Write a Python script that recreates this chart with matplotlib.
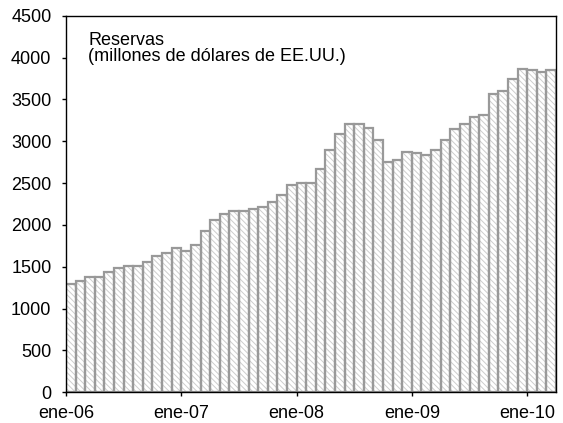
import numpy as np
import matplotlib.pyplot as plt

# reservas mensuales, millones de USD (ene-06 .. mar-10)
r2006 = [1295, 1334, 1375, 1375, 1434, 1481, 1507, 1507, 1561, 1626, 1665, 1729]
r2007 = [1688, 1756, 1924, 2064, 2126, 2167, 2167, 2190, 2214, 2271, 2353, 2482]
r2008 = [2501, 2501, 2664, 2891, 3086, 3206, 3206, 3163, 3019, 2752, 2772, 2871]
r2009 = [2859, 2838, 2899, 3019, 3146, 3210, 3290, 3310, 3564, 3601, 3744, 3867]
r2010 = [3847, 3828, 3856]
reservas = r2006 + r2007 + r2008 + r2009 + r2010
tick_labels = ['ene-06', 'ene-07', 'ene-08', 'ene-09', 'ene-10']

plt.rcParams['font.family'] = ['Liberation Sans', 'DejaVu Sans']
plt.rcParams['hatch.linewidth'] = 0.7

fig = plt.figure(figsize=(5.63, 4.23), dpi=100)
ax = fig.add_axes([0.1172, 0.0726, 0.8704, 0.8903])

x = np.arange(len(reservas))
# relleno rayado + borde gris
ax.bar(x, reservas, width=1.0, align='edge', color='white',
       edgecolor='#cdcdcd', hatch='\\\\\\\\\\\\', linewidth=0)
ax.bar(x, reservas, width=1.0, align='edge', fill=False,
       edgecolor='#999999', linewidth=1.6)

ax.set_xlim(0, len(reservas))
ax.set_ylim(0, 4500)
ax.set_yticks(np.arange(0, 4501, 500))
ax.set_xticks([0, 12, 24, 36, 48])
ax.set_xticklabels(tick_labels)

for s in ax.spines.values():
    s.set_color('black')
    s.set_linewidth(1.0)
    s.set_zorder(3)
ax.tick_params(axis='both', direction='out', length=3, width=1.0,
               labelsize=13, colors='black')
ax.tick_params(axis='y', pad=7.5)
ax.tick_params(axis='x', pad=6)

ax.text(0.045, 0.958, 'Reservas\n(millones de dólares de EE.UU.)',
        transform=ax.transAxes, ha='left', va='top', fontsize=13,
        linespacing=0.95)

fig.savefig('out.png', dpi=100)
